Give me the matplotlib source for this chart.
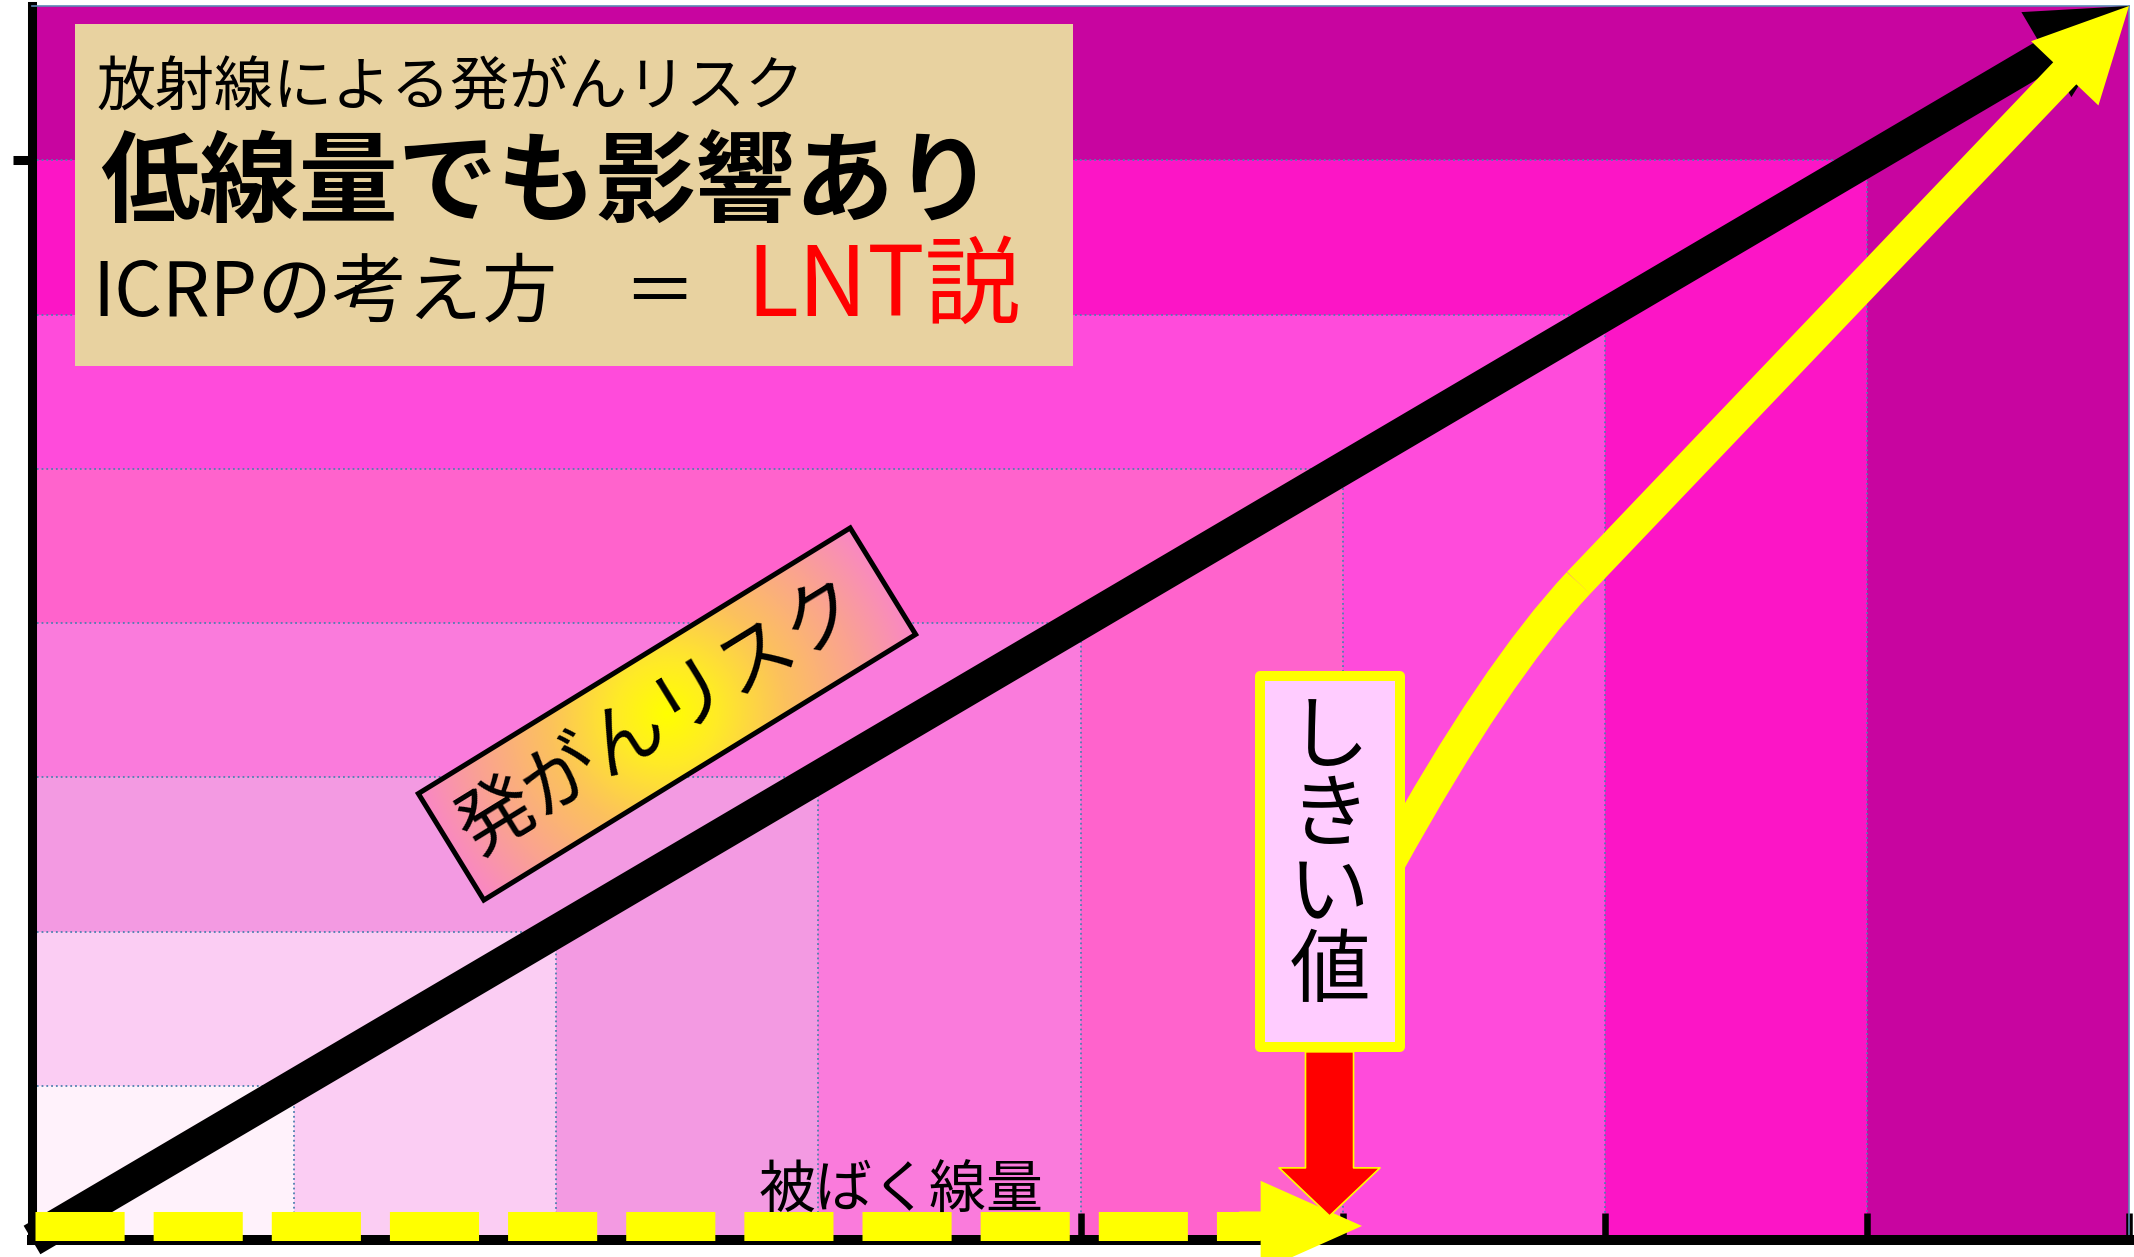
import numpy as np
import matplotlib.pyplot as plt
import matplotlib.transforms as mtransforms
from matplotlib.colors import ListedColormap, LinearSegmentedColormap
from matplotlib.patches import FancyArrowPatch, Rectangle, PathPatch, ArrowStyle
from matplotlib.path import Path

plt.rcParams['font.family'] = ['Noto Sans CJK JP', 'DejaVu Sans']

W, H, DPI = 2134, 1257, 100

# dose / risk bands (arbitrary units)
DOSE_EDGES = [0, 1, 2, 3, 4, 5, 6, 7, 8]
RISK_EDGES = [0, 1, 2, 3, 4, 5, 6, 7, 8]
# shade level of each cell, rows from low risk to high risk
LEVELS = [
    [0, 1, 2, 3, 4, 5, 6, 7],
    [1, 1, 2, 3, 4, 5, 6, 7],
    [2, 2, 2, 3, 4, 5, 6, 7],
    [3, 3, 3, 3, 4, 5, 6, 7],
    [4, 4, 4, 4, 4, 5, 6, 7],
    [5, 5, 5, 5, 5, 5, 6, 7],
    [6, 6, 6, 6, 6, 6, 6, 7],
    [7, 7, 7, 7, 7, 7, 7, 7],
]
LEVEL_COLORS = ['#fff2fb', '#fbcdf3', '#f39ae2', '#fa7bdc',
                '#ff63cc', '#ff4bdb', '#fc15c6', '#c805a0']

# LNT model: straight through the origin
LNT_DOSE = [0, 8]
LNT_RISK = [0, 8]

# threshold model: nothing below the threshold, then a steep rise
THRESHOLD = 4.95
THR_DOSE = [5.18, 5.58, 5.90, 8.0]
THR_RISK = [2.45, 3.68, 4.26, 8.0]

# dose axis arrow
DOSE_ARROW_Y = 0.091
DOSE_ARROW_END = 5.074

fig = plt.figure(figsize=(W / DPI, H / DPI), dpi=DPI)
ax = fig.add_axes([32 / W, 17 / H, 2097 / W, 1234 / H])

# background bands
ax.pcolormesh(DOSE_EDGES, RISK_EDGES, LEVELS, cmap=ListedColormap(LEVEL_COLORS),
              vmin=-0.5, vmax=len(LEVEL_COLORS) - 0.5, zorder=0)
for k in DOSE_EDGES[1:-1]:
    ax.plot([0, k, k], [k, k, 0], ls=':', color='#4f80b0', lw=1.3, zorder=1)

# LNT line
lnt = FancyArrowPatch((LNT_DOSE[0], LNT_RISK[0]), (LNT_DOSE[1], LNT_RISK[1]),
                      arrowstyle=ArrowStyle.Simple(head_length=69, head_width=71, tail_width=23.8),
                      shrinkA=0, shrinkB=0, fc='black', ec='none', zorder=3, clip_on=False)
ax.add_patch(lnt)

# threshold curve: bend, then straight up to the tip
bend = Path([(THR_DOSE[0], THR_RISK[0]), (THR_DOSE[1], THR_RISK[1]), (THR_DOSE[2], THR_RISK[2])],
            [Path.MOVETO, Path.CURVE3, Path.CURVE3])
ax.add_patch(PathPatch(bend, fill=False, ec='#ffff00', lw=23, capstyle='butt', zorder=4))
thr = FancyArrowPatch((THR_DOSE[2], THR_RISK[2]), (THR_DOSE[3], THR_RISK[3]),
                      arrowstyle=ArrowStyle.Simple(head_length=67, head_width=67, tail_width=23),
                      shrinkA=0, shrinkB=0, fc='#ffff00', ec='none', zorder=4, clip_on=False)
ax.add_patch(thr)

# dose axis: dashed yellow arrow
head_base = 4.686
ax.plot([0.011, head_base], [DOSE_ARROW_Y, DOSE_ARROW_Y], color='#ffff00', lw=20.9,
        dashes=(3.07, 1.0), dash_capstyle='butt', zorder=5, clip_on=False)
ax.add_patch(FancyArrowPatch((head_base - 0.08, DOSE_ARROW_Y), (DOSE_ARROW_END, DOSE_ARROW_Y),
                             arrowstyle=ArrowStyle.Simple(head_length=73, head_width=65, tail_width=20.9),
                             shrinkA=0, shrinkB=0, fc='#ffff00', ec='none', zorder=5, clip_on=False))
ax.text(3.316, 0.207, '被ばく線量', fontsize=41, ha='center', va='baseline', zorder=6)

# threshold label and arrow down to the dose axis
ax.add_patch(FancyArrowPatch((THRESHOLD, 1.22), (THRESHOLD, 0.156),
                             arrowstyle=ArrowStyle.Simple(head_length=34.6, head_width=72.7, tail_width=34.6),
                             shrinkA=0, shrinkB=0, fc='#ff0000', ec='#ffff00', lw=1.2, zorder=6))
ax.add_patch(Rectangle((THRESHOLD - 0.267, 1.251), 0.534, 2.405, fc='#ffccff', ec='#ffff00',
                       lw=7.2, joinstyle='round', zorder=7))
for i, ch in enumerate('しきい値'):
    ax.text(THRESHOLD, 3.248 - i * 0.506, ch, fontsize=58, ha='center', va='center', zorder=8)

ax.set_xticks(DOSE_EDGES[1:])
ax.set_yticks([7])
ax.tick_params(axis='x', direction='in', length=19.5, width=4.7, labelbottom=False)
ax.tick_params(axis='y', direction='out', length=13.5, width=6.5, labelleft=False)
ax.spines['left'].set_linewidth(6.5)
ax.spines['bottom'].set_linewidth(7.2)
for side in ['top', 'right']:
    ax.spines[side].set_color('#5b87b5')
    ax.spines[side].set_linewidth(1.2)

# tilted "risk" label with a radial gradient fill
angle = 31.6
cx, cy = 667, H - 714
lw_, lh_ = 507, 125
rot = mtransforms.Affine2D().rotate_deg(angle).translate(cx, cy)
u = np.linspace(-lw_ / 2, lw_ / 2, 400)
v = np.linspace(-lh_ / 2, lh_ / 2, 100)
uu, vv = np.meshgrid(u, v)
rr = np.hypot(uu, vv) / np.hypot(lw_ / 2, lh_ / 2)
grad_cmap = LinearSegmentedColormap.from_list(
    'label', [(0, '#ffff00'), (0.2, '#ffea28'), (0.45, '#fcc25c'),
              (0.75, '#faa292'), (1, '#f986c6')])
ax.imshow(rr, extent=(-lw_ / 2, lw_ / 2, -lh_ / 2, lh_ / 2), origin='lower', cmap=grad_cmap,
          vmin=0, vmax=1, aspect='auto', interpolation='bilinear', transform=rot, zorder=7)
ax.add_patch(Rectangle((-lw_ / 2, -lh_ / 2), lw_, lh_, transform=rot, fill=False,
                       ec='black', lw=3.6, zorder=7))
shift = -8
tx = cx + shift * np.cos(np.radians(angle))
ty = cy + shift * np.sin(np.radians(angle))
ax.text(tx, ty, '発がんリスク', transform=mtransforms.IdentityTransform(), rotation=angle,
        rotation_mode='anchor', ha='center', va='center', fontsize=55, zorder=8)

ax.set_xlim(DOSE_EDGES[0], DOSE_EDGES[-1])
ax.set_ylim(RISK_EDGES[0], RISK_EDGES[-1])


# title panel, positioned in pixels from the top-left
def fx(px):
    return px / W


def fy(py):
    return 1 - py / H


fig.add_artist(Rectangle((fx(75), fy(366)), 998 / W, 342 / H, transform=fig.transFigure,
                         fc='#e8d2a0', ec='none', zorder=5))
fig.text(fx(96), fy(106), '放射線による発がんリスク', fontsize=42.5, va='baseline', zorder=6)
fig.text(fx(100), fy(214), '低線量でも影響あり', fontsize=71.5, fontweight='bold',
         va='baseline', zorder=6)
fig.text(fx(92), fy(316), 'ICRPの考え方', fontsize=54, va='baseline', zorder=6)
fig.text(fx(659), fy(316), '＝', fontsize=52, ha='center', va='baseline', zorder=6)
fig.text(fx(746), fy(316), 'LNT説', fontsize=69, color='#ff0000', va='baseline', zorder=6)

fig.savefig('out.png', dpi=DPI)
